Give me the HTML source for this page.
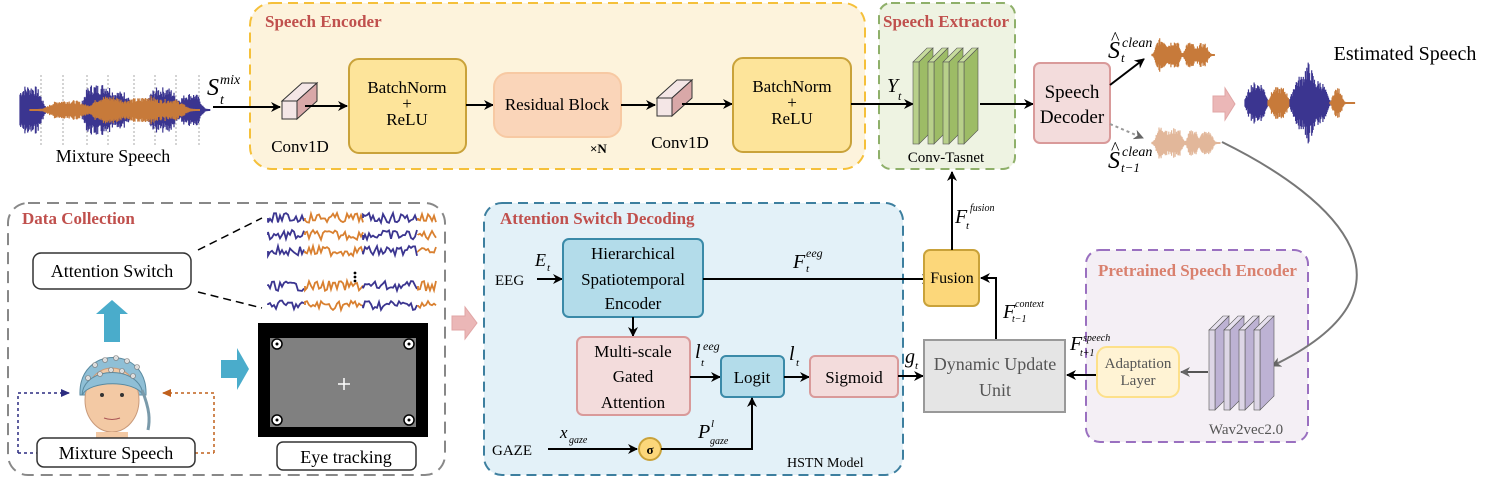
<!DOCTYPE html>
<html><head><meta charset="utf-8"><style>
html,body{margin:0;padding:0;background:#fff}
svg{display:block}
text{font-family:"Liberation Serif",serif}
.t{font-weight:bold;fill:#c0504d;font-size:17px}
.i{font-style:italic}
</style></head><body>
<svg id="s" width="1507" height="482" viewBox="0 0 1507 482" xmlns="http://www.w3.org/2000/svg">
<defs>
<marker id="a" markerWidth="10" markerHeight="10" refX="9" refY="5" orient="auto" markerUnits="userSpaceOnUse"><path d="M0,0 L10,5 L0,10 L3,5z" fill="#000"/></marker>
<marker id="ag" markerWidth="10" markerHeight="10" refX="9" refY="5" orient="auto" markerUnits="userSpaceOnUse"><path d="M0,0 L10,5 L0,10 L3,5z" fill="#666"/></marker>
<marker id="ab" markerWidth="10" markerHeight="10" refX="9" refY="5" orient="auto" markerUnits="userSpaceOnUse"><path d="M0,1 L9,5 L0,9z" fill="#2c2c80"/></marker>
<marker id="ao" markerWidth="10" markerHeight="10" refX="9" refY="5" orient="auto" markerUnits="userSpaceOnUse"><path d="M0,1 L9,5 L0,9z" fill="#c0601c"/></marker>
</defs>

<rect x="250" y="3" width="615" height="166" rx="22" fill="#fdf3dc" stroke="#f5c03a" stroke-width="2" stroke-dasharray="10,6"/>
<text x="265" y="27" class="t">Speech Encoder</text>
<rect x="879" y="3" width="136" height="166" rx="12" fill="#eef3e2" stroke="#8fb06a" stroke-width="2" stroke-dasharray="9,6"/>
<text x="883" y="27" class="t">Speech Extractor</text>
<rect x="8" y="203" width="437" height="272" rx="20" fill="#fff" stroke="#888" stroke-width="2" stroke-dasharray="12,7"/>
<text x="22" y="224" class="t">Data Collection</text>
<rect x="484" y="203" width="419" height="272" rx="18" fill="#e3f1f8" stroke="#3d7f9f" stroke-width="2" stroke-dasharray="10,6"/>
<text x="500" y="224" class="t">Attention Switch Decoding</text>
<rect x="1086" y="250" width="222" height="192" rx="14" fill="#f4eff5" stroke="#9a70c0" stroke-width="2" stroke-dasharray="10,6"/>
<text x="1098" y="276" class="t" style="fill:#d9806e">Pretrained Speech Encoder</text>

<g id="wave"></g>

<text x="207" y="95" font-size="24" class="i">S</text><text x="220" y="84" font-size="14" class="i">mix</text><text x="220" y="104" font-size="14" class="i">t</text>
<line x1="213" y1="107" x2="280" y2="107" stroke="#000" stroke-width="2" marker-end="url(#a)"/>
<g id="c1"></g>
<line x1="305" y1="106" x2="347" y2="106" stroke="#000" stroke-width="2" marker-end="url(#a)"/>
<text x="300" y="152" font-size="17" text-anchor="middle">Conv1D</text>
<rect x="349" y="59" width="117" height="94" rx="10" fill="#fde49a" stroke="#c9a23a" stroke-width="2"/>
<text x="407" y="93" font-size="17" text-anchor="middle">BatchNorm</text><text x="407" y="109" font-size="17" text-anchor="middle">+</text><text x="407" y="125" font-size="17" text-anchor="middle">ReLU</text>
<line x1="466" y1="105" x2="493" y2="105" stroke="#000" stroke-width="2" marker-end="url(#a)"/>
<rect x="494" y="73" width="127" height="64" rx="14" fill="#fad5b9" stroke="#f7c9a3" stroke-width="2"/>
<text x="557" y="110" font-size="17" text-anchor="middle">Residual Block</text>
<text x="590" y="153" font-size="13" font-weight="bold">×N</text>
<line x1="621" y1="105" x2="655" y2="105" stroke="#000" stroke-width="2" marker-end="url(#a)"/>
<g id="c2"></g>
<line x1="682" y1="104" x2="732" y2="104" stroke="#000" stroke-width="2" marker-end="url(#a)"/>
<text x="680" y="148" font-size="17" text-anchor="middle">Conv1D</text>
<rect x="733" y="58" width="118" height="94" rx="10" fill="#fde49a" stroke="#c9a23a" stroke-width="2"/>
<text x="792" y="92" font-size="17" text-anchor="middle">BatchNorm</text><text x="792" y="108" font-size="17" text-anchor="middle">+</text><text x="792" y="124" font-size="17" text-anchor="middle">ReLU</text>
<line x1="851" y1="104" x2="913" y2="104" stroke="#000" stroke-width="2" marker-end="url(#a)"/>
<text x="887" y="92" font-size="20" class="i">Y</text><text x="898" y="100" font-size="12" class="i">t</text>

<g id="tas"></g>
<text x="946" y="162" font-size="15" text-anchor="middle">Conv-Tasnet</text>
<line x1="980" y1="104" x2="1033" y2="104" stroke="#000" stroke-width="2" marker-end="url(#a)"/>
<rect x="1034" y="63" width="76" height="80" rx="6" fill="#f3dcdc" stroke="#d99a9a" stroke-width="2"/>
<text x="1072" y="98" font-size="19" text-anchor="middle">Speech</text><text x="1072" y="123" font-size="19" text-anchor="middle">Decoder</text>
<line x1="1110" y1="85" x2="1144" y2="59" stroke="#000" stroke-width="2" marker-end="url(#a)"/>
<line x1="1110" y1="124" x2="1143" y2="138" stroke="#999" stroke-width="2" stroke-dasharray="3,3" marker-end="url(#ag)"/>
<text x="1108" y="58" font-size="24" class="i">S</text><text x="1111" y="44" font-size="18">^</text><text x="1122" y="47" font-size="14" class="i">clean</text><text x="1121" y="62" font-size="13" class="i">t</text>
<text x="1108" y="168" font-size="24" class="i">S</text><text x="1111" y="154" font-size="18">^</text><text x="1122" y="156" font-size="14" class="i">clean</text><text x="1121" y="172" font-size="13" class="i">t−1</text>
<text x="1405" y="60" font-size="20" text-anchor="middle">Estimated Speech</text>
<path d="M1213,96 h12 v-8 l10,16 l-10,16 v-8 h-12z" fill="#ebb7b7" stroke="#e0a5a5"/>
<path d="M1222,142 C1340,200 1430,290 1272,366" fill="none" stroke="#777" stroke-width="2" marker-end="url(#ag)"/>

<line x1="198" y1="250" x2="262" y2="218" stroke="#000" stroke-width="1.5" stroke-dasharray="8,5"/>
<line x1="198" y1="292" x2="262" y2="308" stroke="#000" stroke-width="1.5" stroke-dasharray="8,5"/>
<rect x="33" y="253" width="158" height="36" rx="8" fill="#fff" stroke="#333" stroke-width="1.5"/>
<text x="112" y="277" font-size="18" text-anchor="middle">Attention Switch</text>
<path d="M104,342 v-28 h-8 l16,-14 l16,14 h-8 v28z" fill="#4aaccb"/>
<path d="M221,360 h16 v-12 l12,21 l-12,21 v-12 h-16z" fill="#4aaccb"/>
<g id="eeg"></g>
<circle cx="355" cy="273" r="1.4" fill="#000"/><circle cx="355" cy="277" r="1.4" fill="#000"/><circle cx="355" cy="281" r="1.4" fill="#000"/>
<rect x="258" y="323" width="170" height="114" fill="#000"/>
<rect x="270" y="338" width="146" height="89" fill="#808080"/>
<g fill="#fff" stroke="#000" stroke-width="1.5"><circle cx="277" cy="344" r="5"/><circle cx="409" cy="344" r="5"/><circle cx="277" cy="420" r="5"/><circle cx="409" cy="420" r="5"/></g>
<g fill="#000"><circle cx="277" cy="344" r="1.5"/><circle cx="409" cy="344" r="1.5"/><circle cx="277" cy="420" r="1.5"/><circle cx="409" cy="420" r="1.5"/></g>
<path d="M344,378 v12 M338,384 h12" stroke="#fff" stroke-width="1.5"/>
<rect x="277" y="442" width="139" height="28" rx="6" fill="#fff" stroke="#333" stroke-width="1.5"/>
<text x="346" y="463" font-size="18" text-anchor="middle">Eye tracking</text>
<path d="M80,395 C78,345 148,345 146,395 Z" fill="#8fbfd6" stroke="#5a8aa0"/>
<ellipse cx="112" cy="400" rx="27" ry="32" fill="#f3c9a4" stroke="#c99a7a"/>
<path d="M82,395 C84,365 140,365 143,395 C135,380 90,380 82,395z" fill="#8fbfd6" stroke="#5a8aa0"/>
<path d="M96,432 v8 h32 v-8" fill="#f3c9a4"/>
<g fill="#ddd" stroke="#777" stroke-width=".6"><circle cx="95" cy="365" r="2.5"/><circle cx="105" cy="360" r="2.5"/><circle cx="116" cy="358" r="2.5"/><circle cx="127" cy="361" r="2.5"/><circle cx="137" cy="367" r="2.5"/><circle cx="100" cy="374" r="2.5"/><circle cx="111" cy="370" r="2.5"/><circle cx="122" cy="371" r="2.5"/><circle cx="133" cy="376" r="2.5"/><circle cx="88" cy="378" r="2.5"/></g>
<circle cx="102" cy="395" r="2" fill="#333"/><circle cx="122" cy="395" r="2" fill="#333"/>
<path d="M104,418 q8,3 16,0" stroke="#a55" fill="none"/>
<path d="M142,390 C150,410 150,420 148,430" stroke="#7a9aaa" stroke-width="3" fill="none"/>
<path d="M18,453 V393 H70" fill="none" stroke="#2c2c80" stroke-width="1.5" stroke-dasharray="3,3" marker-end="url(#ab)"/>
<path d="M214,453 V393 H162" fill="none" stroke="#c0601c" stroke-width="1.5" stroke-dasharray="3,3" marker-end="url(#ao)"/>
<line x1="18" y1="453" x2="37" y2="453" stroke="#2c2c80" stroke-width="1.5" stroke-dasharray="3,3"/>
<line x1="195" y1="453" x2="214" y2="453" stroke="#c0601c" stroke-width="1.5" stroke-dasharray="3,3"/>
<rect x="37" y="438" width="158" height="29" rx="7" fill="#fff" stroke="#333" stroke-width="1.5"/>
<text x="116" y="459" font-size="18" text-anchor="middle">Mixture Speech</text>
<text x="113" y="162" font-size="18" text-anchor="middle">Mixture Speech</text>
<path d="M452,316 h13 v-9 l12,16 l-12,16 v-9 h-13z" fill="#ebb7b7" stroke="#e0a5a5"/>

<text x="495" y="285" font-size="15">EEG</text>
<text x="535" y="266" font-size="18" class="i">E</text><text x="547" y="271" font-size="11" class="i">t</text>
<line x1="537" y1="279" x2="562" y2="279" stroke="#000" stroke-width="2" marker-end="url(#a)"/>
<rect x="563" y="239" width="140" height="78" rx="6" fill="#b3dcea" stroke="#3a8aa8" stroke-width="2"/>
<text x="633" y="259" font-size="17" text-anchor="middle">Hierarchical</text><text x="633" y="285" font-size="17" text-anchor="middle">Spatiotemporal</text><text x="633" y="309" font-size="17" text-anchor="middle">Encoder</text>
<line x1="703" y1="279" x2="931" y2="279" stroke="#000" stroke-width="2" marker-end="url(#a)"/>
<text x="793" y="268" font-size="20" class="i">F</text><text x="806" y="257" font-size="12" class="i">eeg</text><text x="806" y="272" font-size="11" class="i">t</text>
<line x1="633" y1="317" x2="633" y2="336" stroke="#000" stroke-width="2" marker-end="url(#a)"/>
<rect x="577" y="337" width="113" height="78" rx="6" fill="#f3dcdc" stroke="#d99a9a" stroke-width="2"/>
<text x="633" y="357" font-size="17" text-anchor="middle">Multi-scale</text><text x="633" y="382" font-size="17" text-anchor="middle">Gated</text><text x="633" y="408" font-size="17" text-anchor="middle">Attention</text>
<line x1="690" y1="377" x2="720" y2="377" stroke="#000" stroke-width="2" marker-end="url(#a)"/>
<text x="695" y="358" font-size="20" class="i">l</text><text x="703" y="350" font-size="12" class="i">eeg</text><text x="701" y="366" font-size="11" class="i">t</text>
<rect x="721" y="356" width="63" height="41" rx="5" fill="#b3dcea" stroke="#3a8aa8" stroke-width="2"/>
<text x="752" y="383" font-size="17" text-anchor="middle">Logit</text>
<line x1="784" y1="377" x2="809" y2="377" stroke="#000" stroke-width="2" marker-end="url(#a)"/>
<text x="789" y="360" font-size="20" class="i">l</text><text x="796" y="366" font-size="11" class="i">t</text>
<rect x="810" y="356" width="88" height="41" rx="5" fill="#f3dcdc" stroke="#d99a9a" stroke-width="2"/>
<text x="854" y="383" font-size="17" text-anchor="middle">Sigmoid</text>
<line x1="898" y1="376" x2="923" y2="376" stroke="#000" stroke-width="2" marker-end="url(#a)"/>
<text x="905" y="363" font-size="20" class="i">g</text><text x="915" y="369" font-size="11" class="i">t</text>
<text x="492" y="455" font-size="15">GAZE</text>
<text x="560" y="438" font-size="17" class="i">x</text><text x="569" y="443" font-size="10" class="i">gaze</text>
<line x1="548" y1="449" x2="637" y2="449" stroke="#000" stroke-width="2" marker-end="url(#a)"/>
<circle cx="650" cy="449" r="11" fill="#fcd77a" stroke="#c9a23a" stroke-width="2"/>
<text x="650" y="454" font-size="13" font-weight="bold" text-anchor="middle">σ</text>
<path d="M661,449 H752 V398" fill="none" stroke="#000" stroke-width="2" marker-end="url(#a)"/>
<text x="698" y="438" font-size="20" class="i">P</text><text x="711" y="427" font-size="11" class="i">l</text><text x="710" y="444" font-size="10" class="i">gaze</text>
<text x="787" y="467" font-size="14">HSTN Model</text>

<rect x="924" y="250" width="55" height="56" rx="6" fill="#fcd77a" stroke="#c9a23a" stroke-width="2"/>
<text x="952" y="283" font-size="16" text-anchor="middle">Fusion</text>
<line x1="952" y1="250" x2="952" y2="172" stroke="#000" stroke-width="2" marker-end="url(#a)"/>
<text x="955" y="223" font-size="20" class="i">F</text><text x="970" y="211" font-size="10" class="i">fusion</text><text x="966" y="229" font-size="11" class="i">t</text>
<path d="M996,340 V278 H981" fill="none" stroke="#000" stroke-width="2" marker-end="url(#a)"/>
<text x="1003" y="318" font-size="20" class="i">F</text><text x="1015" y="307" font-size="10" class="i">context</text><text x="1012" y="322" font-size="10" class="i">t−1</text>
<rect x="924" y="340" width="141" height="72" fill="#e5e5e5" stroke="#999" stroke-width="2"/>
<text x="995" y="370" font-size="18" text-anchor="middle" fill="#555">Dynamic Update</text><text x="995" y="396" font-size="18" text-anchor="middle" fill="#555">Unit</text>
<line x1="1097" y1="375" x2="1067" y2="375" stroke="#000" stroke-width="2" marker-end="url(#a)"/>
<text x="1070" y="350" font-size="20" class="i">F</text><text x="1083" y="341" font-size="10" class="i">speech</text><text x="1080" y="356" font-size="10" class="i">t+1</text>
<rect x="1097" y="347" width="82" height="50" rx="10" fill="#fff3d4" stroke="#fde08a" stroke-width="2"/>
<text x="1138" y="368" font-size="15" text-anchor="middle" fill="#555">Adaptation</text><text x="1138" y="385" font-size="15" text-anchor="middle" fill="#555">Layer</text>
<line x1="1208" y1="372" x2="1181" y2="372" stroke="#555" stroke-width="2" marker-end="url(#ag)"/>
<g id="w2v"></g>
<text x="1246" y="434" font-size="15" text-anchor="middle" fill="#555">Wav2vec2.0</text>
</svg>
<script>
var NS="http://www.w3.org/2000/svg",S=document.getElementById('s');
function el(t,a,p){var e=document.createElementNS(NS,t);for(var k in a)e.setAttribute(k,a[k]);(p||S).appendChild(e);return e;}
var seed=7;function rnd(){seed=(seed*9301+49297)%233280;return seed/233280;}
var W=document.getElementById('wave');
function wave(x0,x1,cy,env,col,op){var d='';for(var x=x0;x<=x1;x+=0.7){var f=(x-x0)/(x1-x0),a=env(f)*(0.55+0.45*rnd())+1;d+='M'+x.toFixed(1)+','+(cy-a).toFixed(1)+'V'+(cy+a).toFixed(1);}el('path',{d:d,stroke:col,'stroke-width':1.2,fill:'none',opacity:op||1},W);}
function bump(c,w,h){return function(f){var v=0;for(var i=0;i<c.length;i++){var z=(f-c[i])/w[i];v+=h[i]*Math.exp(-z*z*z*z/4);}return v;}}
for(var i=0;i<8;i++){var xx=[41,63,87,108,134,155,176,199][i];el('line',{x1:xx,y1:75,x2:xx,y2:145,stroke:'#aaa','stroke-dasharray':'2,2'},W);}
wave(20,210,110,bump([0.05,0.4,0.52,0.75,0.9],[0.05,0.05,0.05,0.06,0.04],[24,25,18,22,16]),'#3b3590');
wave(30,200,110,bump([0.22,0.46,0.64,0.8],[0.08,0.07,0.06,0.08],[9,13,11,10]),'#c77a3a');
wave(1152,1215,55,bump([0.15,0.35,0.6,0.8],[0.07,0.07,0.06,0.07],[16,14,12,11]),'#c77a3a');
wave(1152,1220,143,bump([0.15,0.35,0.6,0.8],[0.07,0.07,0.06,0.07],[16,14,12,11]),'#e2b79a');
wave(1245,1268,103,bump([0.5],[0.3],[20]),'#3b3590');
wave(1268,1290,103,bump([0.5],[0.3],[15]),'#c77a3a');
wave(1290,1330,103,bump([0.3,0.65],[0.18,0.2],[26,22]),'#3b3590');
wave(1330,1355,103,bump([0.3],[0.15],[14]),'#c77a3a');
var E=document.getElementById('eeg');
function trace(y,x0,x1){var segs=[[x0,x0+37,'#3b3590'],[x0+37,x0+95,'#d98030'],[x0+95,x0+150,'#3b3590'],[x0+150,x1,'#d98030']];segs.forEach(function(s){var d='M'+s[0]+','+y;for(var x=s[0];x<=s[1];x+=2){d+='L'+x+','+(y+(rnd()-0.5)*10).toFixed(1);}el('path',{d:d,stroke:s[2],'stroke-width':1.8,fill:'none'},E);});}
[218,235,251,286,305].forEach(function(y){trace(y,268,437);});
function cube(g,x,y,w,h,dx,dy){g=document.getElementById(g);
el('path',{d:'M'+x+','+y+'l'+dx+','+(-dy)+'h'+w+'l'+(-dx)+','+dy+'z',fill:'#f4e6e6',stroke:'#333'},g);
el('path',{d:'M'+(x+w)+','+y+'l'+dx+','+(-dy)+'v'+h+'l'+(-dx)+','+dy+'z',fill:'#d9a8a8',stroke:'#333'},g);
el('rect',{x:x,y:y,width:w,height:h,fill:'#f4e6e6',stroke:'#333'},g);}
cube('c1',282,101,15,18,20,18);cube('c2',657,98,15,18,20,18);
function plates(g,x0,y0,n,gap,fr,sd,tp,h){g=document.getElementById(g);for(var i=0;i<n;i++){var x=x0+i*gap;
el('path',{d:'M'+x+','+y0+'l14,-14h6l-14,14z',fill:tp,stroke:'#555','stroke-width':.6},g);
el('path',{d:'M'+(x+6)+','+y0+'l14,-14v'+h+'l-14,14z',fill:sd,stroke:'#555','stroke-width':.6},g);
el('rect',{x:x,y:y0,width:6,height:h,fill:fr,stroke:'#555','stroke-width':.6},g);}}
plates('tas',913,62,4,15,'#b8d08a','#9dbc66','#c7dc9d',82);
plates('w2v',1209,330,4,15,'#ddd6e6','#bdb2d4','#e6e0ee',80);
</script>
</body></html>
